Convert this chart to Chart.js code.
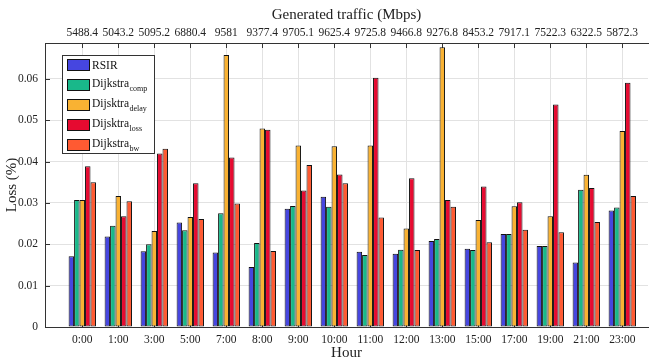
<!DOCTYPE html>
<html><head><meta charset="utf-8">
<script src="https://cdn.jsdelivr.net/npm/chart.js@4/dist/chart.umd.min.js"></script>
<style>html,body{margin:0;padding:0;background:#fff}#wrap{width:649px;height:362px;position:relative}</style>
</head><body><div id="wrap"><canvas id="c" width="649" height="362"></canvas></div>
<script>
const hours = ['0:00','1:00','3:00','5:00','7:00','8:00','9:00','10:00','11:00','12:00','13:00','15:00','17:00','19:00','21:00','23:00'];
const traffic = ['5488.4','5043.2','5095.2','6880.4','9581','9377.4','9705.1','9625.4','9725.8','9466.8','9276.8','8453.2','7917.1','7522.3','6322.5','5872.3'];
const rsir      = [0.0171,0.0219,0.0183,0.0253,0.0180,0.0145,0.0286,0.0315,0.0182,0.0177,0.0208,0.0189,0.0225,0.0196,0.0156,0.0282];
const dijComp   = [0.0307,0.0245,0.0200,0.0234,0.0275,0.0203,0.0293,0.0291,0.0174,0.0187,0.0213,0.0186,0.0225,0.0196,0.0332,0.0289];
const dijDelay  = [0.0307,0.0317,0.0232,0.0266,0.0658,0.0480,0.0439,0.0437,0.0439,0.0238,0.0677,0.0259,0.0292,0.0268,0.0368,0.0474];
const dijLoss   = [0.0389,0.0268,0.0420,0.0348,0.0410,0.0477,0.0330,0.0369,0.0603,0.0360,0.0307,0.0340,0.0302,0.0538,0.0336,0.0591];
const dijBw     = [0.0350,0.0304,0.0431,0.0261,0.0299,0.0184,0.0392,0.0348,0.0265,0.0186,0.0291,0.0205,0.0235,0.0229,0.0254,0.0317];
const seriesNames = ['RSIR','Dijkstra','Dijsktra','Dijsktra','Dijkstra'];
const seriesSubs  = ['','comp','delay','loss','bw'];
const seriesColors = ['#4646E0','#19B88A','#F9B233','#E60A30','#FF5A32'];
const yTicks = [0,0.01,0.02,0.03,0.04,0.05,0.06];
const FONT = '"Liberation Serif", "Times New Roman", serif';

const seriesData = [rsir, dijComp, dijDelay, dijLoss, dijBw];
const datasets = seriesData.map((arr, k) => ({
  label: seriesNames[k] + (seriesSubs[k] ? '_' + seriesSubs[k] : ''),
  data: arr.map((v, i) => ({x: i, y: v})),
  backgroundColor: seriesColors[k],
  borderColor: '#111',
  borderWidth: 1,
  borderSkipped: false,
  categoryPercentage: 0.76,
  barPercentage: 1.0,
  xAxisID: 'x'
}));

const XMIN = -1.036, XMAX = 15.714;

const tickMarks = {
  id: 'tickMarks',
  beforeDatasetsDraw(chart) {
    const {ctx, chartArea: a, scales} = chart;
    ctx.save();
    ctx.strokeStyle = '#333';
    ctx.lineWidth = 1;
    ctx.beginPath();
    scales.x.ticks.forEach(t => {
      const px = Math.round(scales.x.getPixelForValue(t.value)) + 0.5;
      ctx.moveTo(px, a.top); ctx.lineTo(px, a.top + 5);
      ctx.moveTo(px, a.bottom); ctx.lineTo(px, a.bottom - 5);
    });
    scales.y.ticks.forEach(t => {
      const py = Math.round(scales.y.getPixelForValue(t.value)) + 0.5;
      ctx.moveTo(a.left, py); ctx.lineTo(a.left + 5, py);
    });
    ctx.stroke();
    ctx.restore();
  }
};

const legendBox = {
  id: 'legendBox',
  afterDraw(chart) {
    const {ctx, chartArea: a} = chart;
    const x0 = Math.round(a.left + 17), y0 = Math.round(a.top + 12), w = 92, h = 98;
    ctx.save();
    ctx.fillStyle = '#fff';
    ctx.fillRect(x0, y0, w, h);
    ctx.strokeStyle = '#333';
    ctx.lineWidth = 1;
    ctx.strokeRect(x0 + 0.5, y0 + 0.5, w, h);
    chart.data.datasets.forEach((ds, i) => {
      const cy = y0 + 9.5 + i * 20;
      ctx.fillStyle = ds.backgroundColor;
      ctx.fillRect(x0 + 5, Math.round(cy - 6), 22, 12);
      ctx.strokeStyle = '#111';
      ctx.strokeRect(x0 + 5.5, Math.round(cy - 6) + 0.5, 22, 11);
      ctx.fillStyle = '#111';
      ctx.textAlign = 'left';
      ctx.textBaseline = 'alphabetic';
      ctx.font = '11.5px ' + FONT;
      const tx = x0 + 30;
      if (seriesSubs[i]) {
        ctx.fillText(seriesNames[i], tx, cy + 2.5);
        const mw = ctx.measureText(seriesNames[i]).width;
        ctx.font = '8px ' + FONT;
        ctx.fillText(seriesSubs[i], tx + mw + 0.5, cy + 6.5);
      } else {
        ctx.fillText(seriesNames[i], tx, cy + 4);
      }
    });
    ctx.restore();
  }
};

new Chart(document.getElementById('c'), {
  type: 'bar',
  data: { datasets },
  options: {
    responsive: false,
    animation: false,
    devicePixelRatio: 1,
    layout: { padding: { left: 0, right: 1, top: 0, bottom: 0 } },
    plugins: { legend: { display: false }, tooltip: { enabled: false } },
    scales: {
      x: {
        type: 'linear', position: 'bottom', min: XMIN, max: XMAX, offset: false,
        afterBuildTicks: s => { s.ticks = hours.map((_, i) => ({value: i})); },
        afterFit: s => { s.height = 35; },
        ticks: { callback: v => hours[v], autoSkip: false, maxRotation: 0, minRotation: 0, padding: 6,
                 color: '#222', font: { family: FONT, size: 11.5 } },
        grid: { offset: false, color: '#e2e2e2', lineWidth: 1, drawTicks: false, tickLength: 0 },
        border: { color: '#333', width: 1 },
        title: { display: true, text: 'Hour', color: '#222', font: { family: FONT, size: 15 }, padding: { top: 0, bottom: 0 } }
      },
      x2: {
        type: 'linear', position: 'top', min: XMIN, max: XMAX, offset: false,
        afterBuildTicks: s => { s.ticks = traffic.map((_, i) => ({value: i})); },
        afterFit: s => { s.height = 43; },
        ticks: { callback: v => traffic[v], autoSkip: false, maxRotation: 0, minRotation: 0, padding: 3,
                 color: '#222', font: { family: FONT, size: 11.5 } },
        grid: { display: false, offset: false, drawTicks: false, tickLength: 0 },
        border: { color: '#333', width: 1 },
        title: { display: true, text: 'Generated traffic (Mbps)', color: '#222', font: { family: FONT, size: 15 }, padding: { top: 6, bottom: 0 } }
      },
      y: {
        type: 'linear', position: 'left', min: 0, max: 0.0687,
        afterBuildTicks: s => { s.ticks = yTicks.map(v => ({value: v})); },
        afterFit: s => { s.width = 45; },
        ticks: { callback: v => String(v), padding: 7, color: '#222', font: { family: FONT, size: 11.5 } },
        grid: { color: '#e2e2e2', lineWidth: 1, drawTicks: false, tickLength: 0 },
        border: { color: '#333', width: 1 },
        title: { display: true, text: 'Loss (%)', color: '#222', font: { family: FONT, size: 15 }, padding: { top: 3, bottom: 0 } }
      }
    }
  },
  plugins: [tickMarks, legendBox]
});
</script>
</body></html>
